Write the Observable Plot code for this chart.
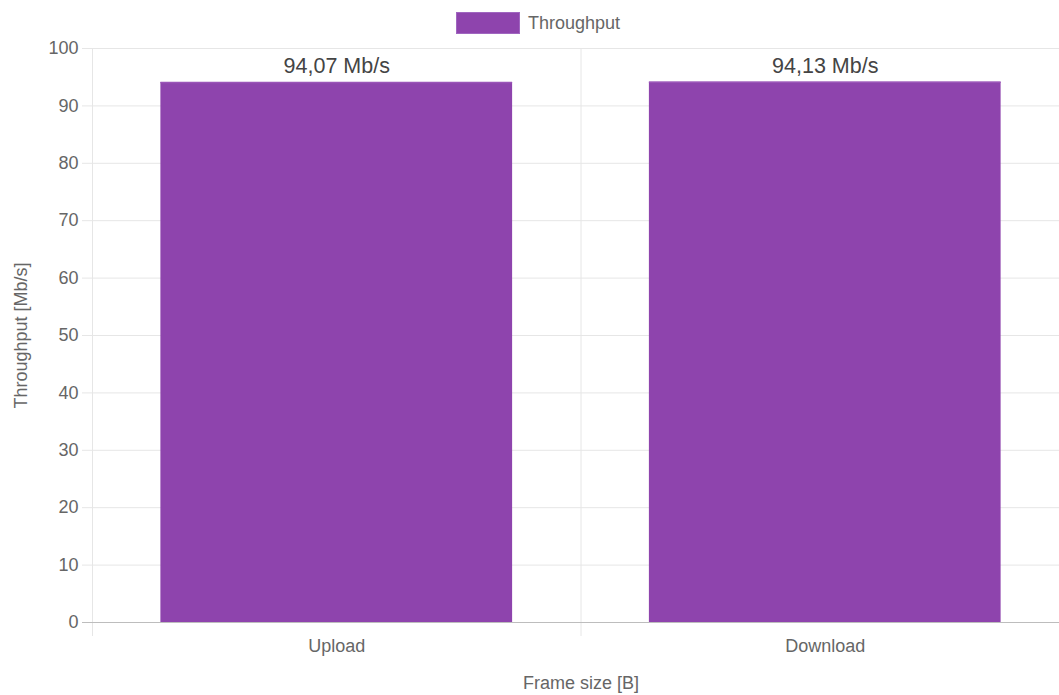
<!DOCTYPE html>
<html>
<head>
<meta charset="utf-8">
<script src="https://cdn.jsdelivr.net/npm/d3@7"></script>
<script src="https://cdn.jsdelivr.net/npm/@observablehq/plot@0.6"></script>
<style>
  html, body { margin: 0; padding: 0; background: #fff; }
  body { width: 1059px; height: 695px; overflow: hidden; font-family: "Liberation Sans", Arial, sans-serif; }
  #legend { height: 30px; display: flex; justify-content: center; align-items: center; gap: 8px; color: #666; font-size: 18px; padding-left: 17px; padding-top: 16px; box-sizing: border-box; width: 1059px; }
  #legend .sw { width: 64px; height: 22px; background: #8e44ad; border: 1px solid #a066c0; box-sizing: border-box; }
  #chart { width: 1059px; overflow: hidden; }
  svg { display: block; }
</style>
</head>
<body>
<div id="legend"><span class="sw"></span><span>Throughput</span></div>
<div id="chart"></div>
<script>
const categories = ["Upload", "Download"];
const throughput = [94.07, 94.13];
const valueLabels = ["94,07 Mb/s", "94,13 Mb/s"];
const yTicks = [0, 10, 20, 30, 40, 50, 60, 70, 80, 90, 100];
const seriesName = "Throughput";
const xTitle = "Frame size [B]";
const yTitle = "Throughput [Mb/s]";

document.querySelector("#legend span:last-child").textContent = seriesName;

const data = categories.map((c, i) => ({category: c, value: throughput[i], label: valueLabels[i]}));

const W = 1069, H = 665;
const mL = 92, mR = 0, mT = 18, mB = 73;
const step = (W - mL - mR) / categories.length;

const chart = Plot.plot({
  width: W,
  height: H,
  marginLeft: mL,
  marginRight: mR,
  marginTop: mT,
  marginBottom: mB,
  style: { fontFamily: "Liberation Sans, Arial, sans-serif", fontSize: "18px", color: "#666", background: "#fff", maxWidth: "none" },
  x: { domain: categories, paddingInner: 0.28, paddingOuter: 0.14, round: false, label: null },
  y: { domain: [0, 100], label: null },
  marks: [
    // horizontal grid lines + tick marks
    Plot.ruleY(yTicks.filter(t => t !== 0), { y: d => d, stroke: "#e6e6e6", strokeWidth: 1, insetLeft: -10 }),
    // vertical grid lines at category boundaries (top to below the axis)
    Plot.ruleX(categories, { x: d => d, dx: -step / 2, y1: 100, y2: 0, stroke: "#e6e6e6", insetBottom: -14 }),
    Plot.barY(data, { x: "category", y: "value", fill: "#8e44ad" }),
    Plot.ruleY(data, { x1: "category", x2: "category", y: "value", stroke: "#9a55b8", strokeWidth: 1.5 }),
    // zero line
    Plot.ruleY([0], { stroke: "#bdbdbd", strokeWidth: 1, insetLeft: -10 }),
    Plot.axisY(yTicks, { tickSize: 0, tickPadding: 14, fontSize: 18, fill: "#666", label: null }),
    Plot.axisX({ tickSize: 0, tickPadding: 17, fontSize: 18, fill: "#666", label: null }),
    Plot.text(data, { x: "category", y: "value", text: "label", dy: -16, fontSize: 21.5, fill: "#444", lineAnchor: "middle" }),
    Plot.text([xTitle], { frameAnchor: "bottom", dy: 61, fontSize: 18, fill: "#666", lineAnchor: "middle" }),
    Plot.text([yTitle], { frameAnchor: "left", dx: -71, rotate: -90, fontSize: 18, fill: "#666", textAnchor: "middle" })
  ]
});
document.getElementById("chart").appendChild(chart);
</script>
</body>
</html>
